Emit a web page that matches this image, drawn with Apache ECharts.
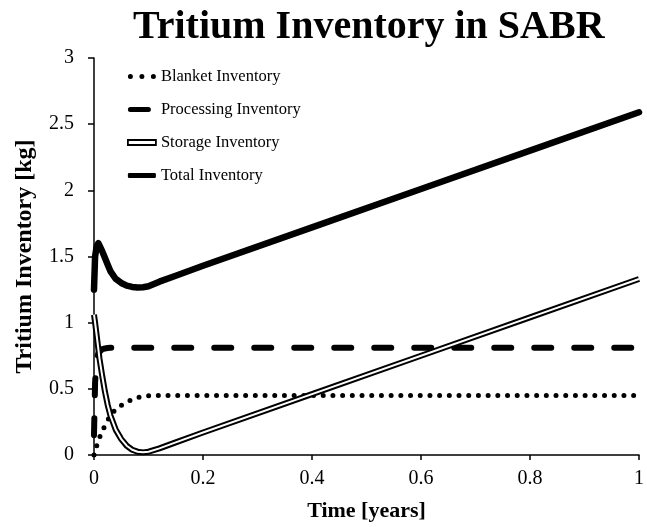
<!DOCTYPE html>
<html>
<head>
<meta charset="utf-8">
<script src="https://cdn.jsdelivr.net/npm/echarts@6/dist/echarts.min.js"></script>
<style>
  html, body { margin: 0; padding: 0; background: #fff; }
  #chart { width: 647px; height: 527px; }
</style>
</head>
<body>
<div id="chart"></div>
<script>
// time in years, shared by all curves
var time = [0, 0.002, 0.005, 0.008, 0.01, 0.015, 0.02, 0.025, 0.03, 0.04, 0.05, 0.06, 0.07, 0.08, 0.09, 0.1, 0.12, 0.15, 0.2, 0.4, 0.6, 0.8, 1.0];

// inventories in kg
var blanket    = [0, 0.03, 0.07, 0.1, 0.13, 0.18, 0.22, 0.26, 0.3, 0.345, 0.375, 0.4, 0.42, 0.435, 0.443, 0.447, 0.45, 0.45, 0.45, 0.45, 0.45, 0.45, 0.45];
var processing = [0.15, 0.55, 0.72, 0.77, 0.785, 0.8, 0.805, 0.808, 0.81, 0.81, 0.81, 0.81, 0.81, 0.81, 0.81, 0.81, 0.81, 0.81, 0.81, 0.81, 0.81, 0.81, 0.81];
var storage    = [1.06, 1.0, 0.9, 0.8, 0.73, 0.6, 0.48, 0.38, 0.3, 0.19, 0.12, 0.07, 0.04, 0.025, 0.02, 0.025, 0.05, 0.095, 0.17, 0.46, 0.75, 1.04, 1.33];
var total      = [1.25, 1.5, 1.58, 1.6, 1.59, 1.54, 1.49, 1.44, 1.39, 1.33, 1.3, 1.28, 1.27, 1.265, 1.268, 1.275, 1.31, 1.355, 1.43, 1.72, 2.01, 2.3, 2.59];

var names = ['Blanket Inventory', 'Processing Inventory', 'Storage Inventory', 'Total Inventory'];

function pairs(vals) {
  return time.map(function (t, i) { return [t, vals[i]]; });
}

var font = 'Liberation Serif';
var myChart = echarts.init(document.getElementById('chart'));

myChart.setOption({
  backgroundColor: '#fff',
  animation: false,
  color: ['#000', '#000', '#000', '#fff', '#000'],
  title: {
    text: 'Tritium Inventory in SABR',
    left: 128,
    top: 3,
    textStyle: { fontFamily: font, fontSize: 40, fontWeight: 'bold', color: '#000' }
  },
  legend: {
    orient: 'vertical',
    left: 127,
    top: 68,
    padding: 0,
    itemWidth: 28,
    itemHeight: 5,
    itemGap: 16,
    textStyle: { fontFamily: font, fontSize: 16.5, color: '#000' },
    data: [
      {
        name: names[0],
        icon: 'path://M0,2.5a2.5,2.5 0 1,0 5,0a2.5,2.5 0 1,0 -5,0M11.5,2.5a2.5,2.5 0 1,0 5,0a2.5,2.5 0 1,0 -5,0M23,2.5a2.5,2.5 0 1,0 5,0a2.5,2.5 0 1,0 -5,0Z',
        itemStyle: { color: '#000' }
      },
      {
        name: names[1],
        icon: 'path://M2.5,0H20.5A2.5,2.5 0 0,1 20.5,5H2.5A2.5,2.5 0 0,1 2.5,0ZM28,2.5Z',
        itemStyle: { color: '#000' }
      },
      {
        name: names[2],
        icon: 'rect',
        itemStyle: { color: '#fff', borderColor: '#000', borderWidth: 1.8 }
      },
      {
        name: names[3],
        icon: 'roundRect',
        itemStyle: { color: '#000' }
      }
    ]
  },
  grid: { left: 94, right: 7, top: 58, bottom: 70 },
  xAxis: {
    type: 'value',
    min: 0,
    max: 1,
    interval: 0.2,
    name: 'Time [years]',
    nameLocation: 'middle',
    nameGap: 45,
    nameTextStyle: { fontFamily: font, fontSize: 22, fontWeight: 'bold', color: '#000' },
    splitLine: { show: false },
    axisLine: { onZero: false, lineStyle: { color: '#000', width: 1.5 } },
    axisTick: { inside: false, length: 5, lineStyle: { color: '#000', width: 1.5 } },
    axisLabel: { fontFamily: font, fontSize: 20, color: '#000', margin: 14 }
  },
  yAxis: {
    type: 'value',
    min: 0,
    max: 3,
    interval: 0.5,
    name: 'Tritium Inventory [kg]',
    nameLocation: 'middle',
    nameGap: 57,
    nameTextStyle: { fontFamily: font, fontSize: 24, fontWeight: 'bold', color: '#000' },
    splitLine: { show: false },
    axisLine: { show: true, lineStyle: { color: '#000', width: 1.5 } },
    axisTick: { show: true, inside: false, length: 6, lineStyle: { color: '#000', width: 1.5 } },
    axisLabel: { fontFamily: font, fontSize: 20, color: '#000', margin: 20 }
  },
  series: [
    {
      name: names[0], type: 'line', data: pairs(blanket), showSymbol: false, symbol: 'none',
      lineStyle: { color: '#000', width: 5, type: [0, 9.7], cap: 'round' }, z: 2
    },
    {
      name: names[1], type: 'line', data: pairs(processing), showSymbol: false, symbol: 'none',
      lineStyle: { color: '#000', width: 6, type: [17, 23], cap: 'round' }, z: 2
    },
    {
      name: names[2], type: 'line', data: pairs(storage), showSymbol: false, symbol: 'none',
      lineStyle: { color: '#000', width: 6 }, z: 3
    },
    {
      name: 'storage-inner', type: 'line', data: pairs(storage), showSymbol: false, symbol: 'none',
      lineStyle: { color: '#fff', width: 2 }, z: 4
    },
    {
      name: names[3], type: 'line', data: pairs(total), showSymbol: false, symbol: 'none',
      lineStyle: { color: '#000', width: 6.5, cap: 'round', join: 'round' }, z: 5
    }
  ]
});
</script>
</body>
</html>
